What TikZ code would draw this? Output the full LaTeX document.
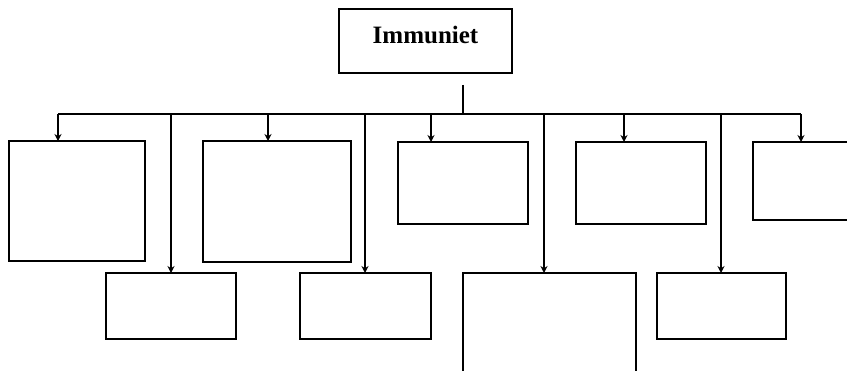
\documentclass[tikz,border=0pt]{standalone}
\usepackage{fontspec}
\setmainfont{Liberation Serif}
\usetikzlibrary{arrows.meta}
\usetikzlibrary{positioning}

\tikzset{
    blk/.style={draw, line width=1.4pt, anchor=north west, inner sep=0pt, outer sep=0pt},
    link/.style={line width=1.4pt},
    arr/.style={line width=1.4pt, -{Stealth[length=7pt,width=7pt]}}
}

\begin{document}
\begin{tikzpicture}[x=1pt, y=-1pt]
            \useasboundingbox (0,0) rectangle (847,371);
            \clip (0,0) rectangle (847,371);
            % root
            \node[blk, minimum width=173pt, minimum height=64pt] (immuniet) at (339,9) {};
            \node[font=\bfseries\fontsize{25}{28}\selectfont] (title) at ([yshift=6pt]immuniet.center) {Immuniet};
            % upper row
            \node[blk, minimum width=136pt, minimum height=120pt] (up1) at (9,141) {};
            \node[blk, minimum width=148pt, minimum height=121pt] (up2) at (203,141) {};
            \node[blk, minimum width=130pt, minimum height=82pt] (up3) at (398,142) {};
            \node[blk, minimum width=130pt, minimum height=82pt] (up4) at (576,142) {};
            \node[blk, minimum width=120pt, minimum height=78pt] (up5) at (753,142) {};
            % lower row
            \node[blk, minimum width=130pt, minimum height=66pt] (low1) at (106,273) {};
            \node[blk, minimum width=131pt, minimum height=66pt] (low2) at (300,273) {};
            \node[blk, minimum width=173pt, minimum height=130pt] (low3) at (463,273) {};
            \node[blk, minimum width=129pt, minimum height=66pt] (low4) at (657,273) {};
            % bus
            \coordinate (stem) at (463,85);
            \coordinate (busl) at (58,114);
            \coordinate (busr) at (801,114);
            \draw[link] (busl) -- (busr);
            \draw[link] (stem) -- (stem |- busl);
            \draw[arr] (busl) -- (busl |- up1.north);
            \draw[arr] (268,114) coordinate (j2) -- (j2 |- up2.north);
            \draw[arr] (431,114) coordinate (j3) -- (j3 |- up3.north);
            \draw[arr] (624,114) coordinate (j4) -- (j4 |- up4.north);
            \draw[arr] (busr) -- (busr |- up5.north);
            \draw[arr] (171,114) coordinate (k1) -- (k1 |- low1.north);
            \draw[arr] (365,114) coordinate (k2) -- (k2 |- low2.north);
            \draw[arr] (544,114) coordinate (k3) -- (k3 |- low3.north);
            \draw[arr] (721,114) coordinate (k4) -- (k4 |- low4.north);
        \end{tikzpicture}
\end{document}
